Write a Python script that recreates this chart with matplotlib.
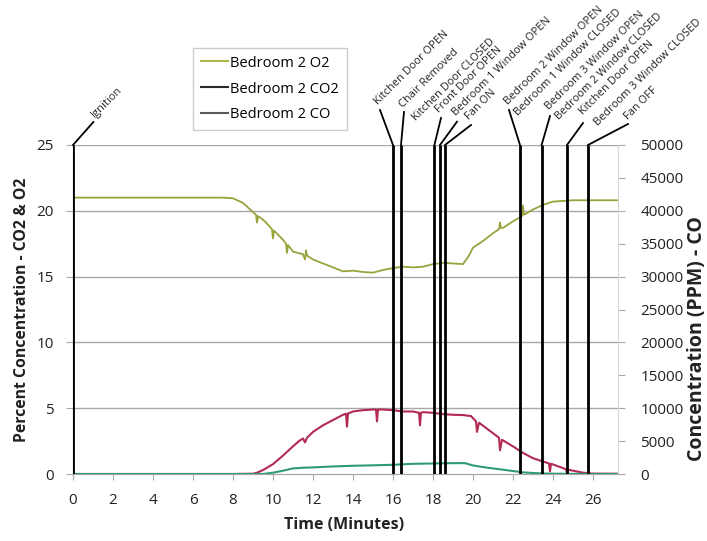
import matplotlib
matplotlib.use("Agg")
import matplotlib.pyplot as plt
from matplotlib.lines import Line2D

plt.rcParams['font.family'] = ['Open Sans', 'DejaVu Sans']

# ---------------- data ----------------
o2_t = [0, 2, 4, 6, 7.5, 8.0, 8.5, 9.0, 9.15, 9.2, 9.25, 9.6, 9.95, 10.0, 10.05, 10.5,
        10.65, 10.7, 10.75, 11.0, 11.5, 11.6, 11.65, 11.7, 12.0, 12.5, 13.0, 13.5, 14.0,
        14.5, 15.0, 15.5, 16.0, 16.5, 17.0, 17.5, 18.0, 18.5, 19.0, 19.5, 19.8, 20.0,
        20.5, 21.0, 21.3, 21.35, 21.4, 21.5, 22.0, 22.45, 22.5, 22.55, 23.0, 23.5, 24.0,
        24.5, 25.0, 26.0, 27.25]
o2_v = [21.0, 21.0, 21.0, 21.0, 21.0, 20.95, 20.6, 19.9, 19.7, 19.1, 19.6, 19.2, 18.6,
        17.9, 18.5, 17.8, 17.5, 16.8, 17.4, 16.9, 16.7, 16.3, 17.0, 16.6, 16.3, 16.0,
        15.7, 15.4, 15.45, 15.35, 15.3, 15.5, 15.65, 15.75, 15.7, 15.75, 15.95, 16.05,
        16.0, 15.95, 16.6, 17.2, 17.7, 18.3, 18.6, 19.1, 18.7, 18.7, 19.2, 19.6, 20.4,
        19.7, 20.1, 20.45, 20.7, 20.75, 20.8, 20.8, 20.8]

co2_t = [0, 4, 8, 9.0, 9.2, 9.5, 10.0, 10.5, 11.0, 11.3, 11.5, 11.6, 11.7, 12.0, 12.5,
         13.0, 13.5, 13.65, 13.7, 13.75, 14.0, 14.5, 15.0, 15.15, 15.2, 15.25, 15.5,
         16.0, 16.5, 17.0, 17.3, 17.35, 17.4, 17.5, 18.0, 18.5, 19.0, 19.5, 19.9, 20.15,
         20.2, 20.3, 21.0, 21.3, 21.35, 21.45, 22.0, 22.5, 23.0, 23.5, 23.8, 23.85, 23.9,
         24.5, 24.65, 24.7, 24.75, 25.0, 25.5, 26.0, 27.25]
co2_v = [0.0, 0.0, 0.0, 0.02, 0.1, 0.3, 0.75, 1.4, 2.1, 2.5, 2.7, 2.4, 2.75, 3.2, 3.7,
         4.1, 4.5, 4.58, 3.6, 4.6, 4.75, 4.85, 4.9, 4.9, 4.0, 4.9, 4.9, 4.85, 4.75, 4.75,
         4.65, 3.7, 4.65, 4.7, 4.65, 4.55, 4.5, 4.48, 4.4, 4.0, 3.2, 3.9, 3.1, 2.75, 1.8,
         2.6, 2.1, 1.6, 1.2, 0.95, 0.8, 0.2, 0.78, 0.45, 0.35, 0.1, 0.33, 0.25, 0.1, 0.03,
         0.02]

co_t = [0, 4, 8, 9.5, 10.0, 10.5, 11.0, 11.5, 12.0, 13.0, 14.0, 15.0, 16.0, 17.0, 18.0,
        19.0, 19.6, 20.0, 20.5, 21.0, 21.5, 22.0, 22.5, 23.0, 23.5, 24.0, 25.0, 26.0, 27.25]
co_v = [0, 0, 0, 0, 200, 500, 850, 950, 1000, 1150, 1250, 1320, 1400, 1550, 1600,
        1650, 1650, 1300, 1050, 850, 650, 450, 250, 150, 80, 50, 20, 0, 0]

event_times = [0.0, 16.0, 16.4, 18.07, 18.35, 18.6, 22.35, 23.43, 24.7, 25.75]

event_labels = ['Ignition', 'Kitchen Door OPEN', 'Chair Removed', 'Kitchen Door CLOSED',
                'Front Door OPEN', 'Bedroom 1 Window OPEN', 'Fan ON',
                'Bedroom 2 Window OPEN', 'Bedroom 1 Window CLOSED',
                'Bedroom 3 Window OPEN', 'Bedroom 2 Window CLOSED',
                'Kitchen Door OPEN', 'Bedroom 3 Window CLOSED', 'Fan OFF']
# index of event line each label's leader attaches to (None = no leader)
label_line = [0, 1, 2, None, 3, 4, 5, 6, None, 7, None, 8, None, 9]

x_ticks = list(range(0, 27, 2))
left_ticks = [0, 5, 10, 15, 20, 25]
right_ticks = list(range(0, 50001, 5000))

series_names = ['Bedroom 2 O2', 'Bedroom 2 CO2', 'Bedroom 2 CO']

# ---------------- layout (label placement, pixels) ----------------
# text anchor: (x in minutes, height in px above axes top); leader end likewise
label_pos = [(1.18, 25), (15.35, 38), (16.6, 35), (17.27, 22), (18.43, 30), (19.27, 26.7),
             (19.93, 23.3), (21.85, 38.3), (22.35, 26.7), (23.93, 33.3), (24.43, 23.3),
             (25.6, 28), (26.35, 16.7), (27.85, 23.3)]
leader_end = [(1.02, 23), (15.35, 35), (16.55, 33), None, (18.4, 27), (19.2, 23.3),
              (19.9, 20), (21.8, 35), None, (23.85, 29), None, (25.5, 22), None,
              (27.75, 21)]

W, H = 707, 541
fig = plt.figure(figsize=(W / 100, H / 100), dpi=100)
AX_L, AX_R, AX_T, AX_B = 73, 618, 145, 474
ax_h_px = AX_B - AX_T
ax = fig.add_axes([AX_L / W, (H - AX_B) / H, (AX_R - AX_L) / W, ax_h_px / H])
ax2 = ax.twinx()

col_o2 = '#9aa23c'
col_co2 = '#b32a52'
col_co = '#2f9a78'
grid_col = '#a8a8a8'

ax.set_xlim(0, 27.25)
ax.set_ylim(0, 25)
ax2.set_ylim(0, 50000)

for yv in left_ticks[1:]:
    ax.axhline(yv, color=grid_col, lw=1.0, zorder=1)

ax.plot(o2_t, o2_v, color=col_o2, lw=1.3, zorder=3)
ax.plot(co2_t, co2_v, color=col_co2, lw=1.5, zorder=3)
ax2.plot(co_t, co_v, color=col_co, lw=1.5, zorder=3)

trans = ax2.get_xaxis_transform()
ax2.vlines(event_times, 0, 1, transform=trans, colors='black', lw=2.0, zorder=5)

for i, lab in enumerate(event_labels):
    tx, up = label_pos[i]
    ax2.text(tx, 1 + up / ax_h_px, lab, transform=trans, rotation=45,
             rotation_mode='anchor', ha='left', va='bottom', fontsize=7.9,
             color='#222222', clip_on=False)
    li = label_line[i]
    if li is not None:
        lx, lup = leader_end[i]
        ax2.plot([event_times[li], lx], [1, 1 + lup / ax_h_px], transform=trans,
                 color='black', lw=1.3, clip_on=False, zorder=5)

ax.set_xticks(x_ticks)
ax.set_yticks(left_ticks)
ax2.set_yticks(right_ticks)
ax.tick_params(axis='x', length=4, color=grid_col, labelsize=11, pad=10, labelcolor='#222222')
ax.tick_params(axis='y', length=5, color=grid_col, labelsize=11, pad=9, labelcolor='#222222')
ax2.tick_params(axis='y', length=5, color=grid_col, labelsize=11, pad=11, labelcolor='#222222')

for a in (ax, ax2):
    a.spines['top'].set_visible(False)
    a.spines['bottom'].set_color(grid_col)
ax.spines['left'].set_color('black')
ax.spines['right'].set_visible(False)
ax2.spines['left'].set_visible(False)
ax2.spines['right'].set_color('#d8d8d8')

fig.text(21.7 / W, 1 - 310 / H, 'Percent Concentration - CO2 & O2', rotation=90,
         ha='center', va='center', fontsize=11.3, fontweight='bold', color='#222222')
fig.text(696.7 / W, 1 - 339 / H, 'Concentration (PPM) - CO', rotation=90,
         ha='center', va='center', fontsize=14, fontweight='bold', color='#222222')
fig.text(344 / W, 1 - 525 / H, 'Time (Minutes)', ha='center', va='center',
         fontsize=11.5, fontweight='bold', color='#222222')

handles = [Line2D([], [], color='#b0b84a', lw=1.5),
           Line2D([], [], color='#2a2a2a', lw=1.5),
           Line2D([], [], color='#5a5a5a', lw=1.5)]
leg = fig.legend(handles, series_names, loc='upper left',
                 bbox_to_anchor=(193.3 / W, 1 - 48.3 / H), fontsize=10.5,
                 frameon=True, fancybox=False, edgecolor='#c0c0c0',
                 handlelength=1.9, handletextpad=0.15, labelspacing=0.75,
                 borderpad=0.5, borderaxespad=0)
leg.get_frame().set_linewidth(1.0)

fig.savefig('out.png', dpi=100)
